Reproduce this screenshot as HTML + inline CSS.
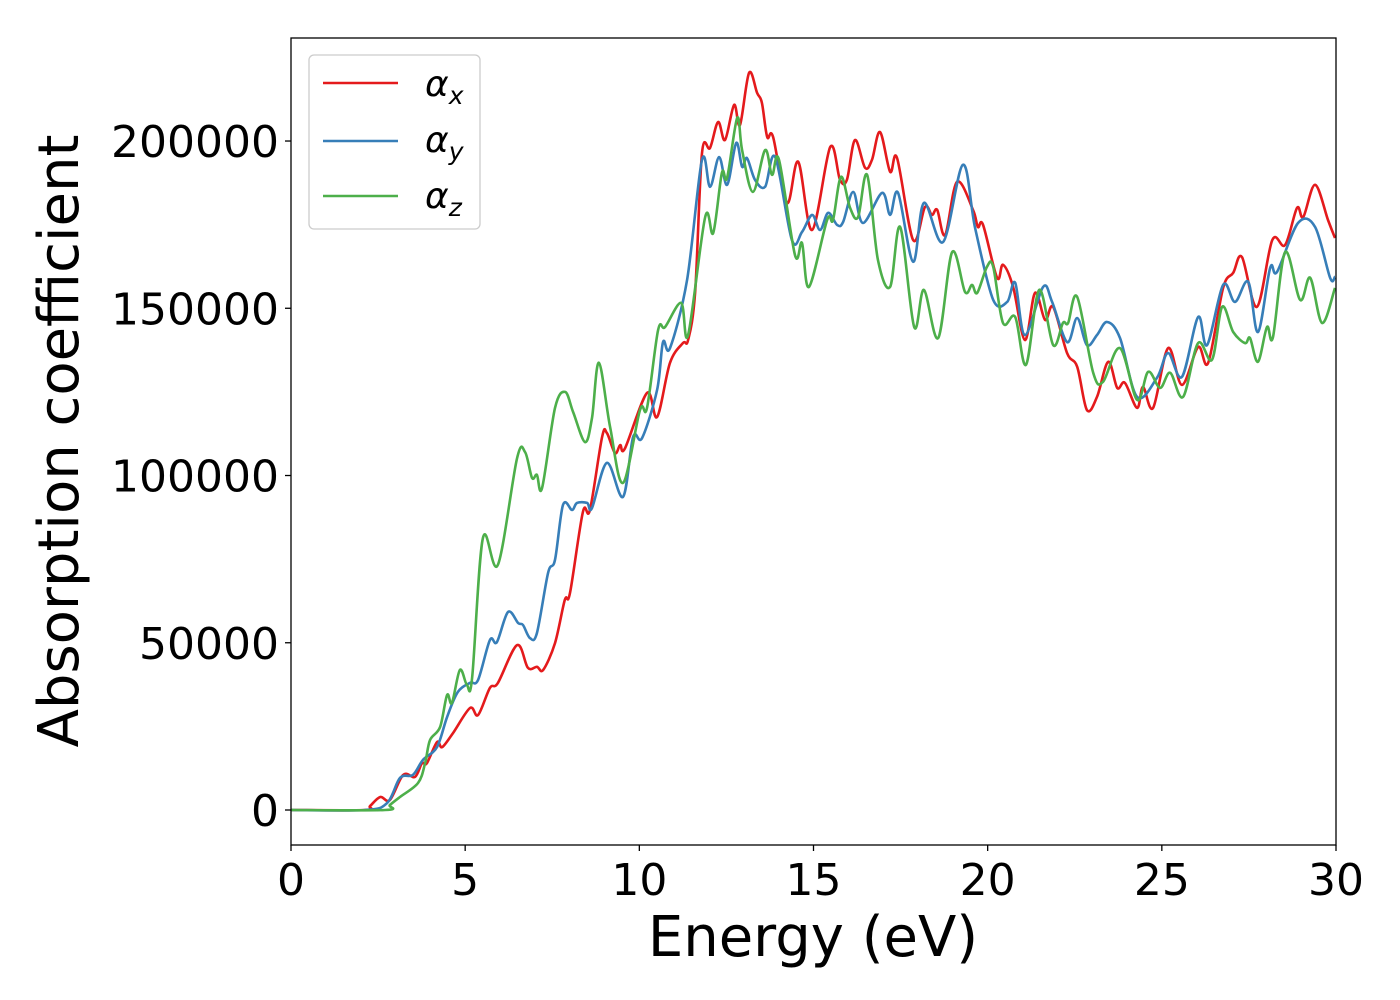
<!DOCTYPE html>
<html><head><meta charset="utf-8">
<style>
html,body{margin:0;padding:0;background:#fff;}
svg{display:block;font-family:"DejaVu Sans","Liberation Sans",sans-serif;}
</style></head>
<body>
<svg id="chart" width="1400" height="1000" viewBox="0 0 1400 1000" xmlns="http://www.w3.org/2000/svg">
<rect width="1400" height="1000" fill="#fff"/>
<g id="plot"></g>
<rect x="291" y="38" width="1045" height="807" fill="none" stroke="#000" stroke-width="1.3"/>
<g id="ticks"></g>
<text x="813" y="956" font-size="56" text-anchor="middle">Energy (eV)</text>
<text transform="translate(78,441) rotate(-90)" font-size="56" text-anchor="middle">Absorption coefficient</text>
<g>
<rect x="309" y="55" width="171" height="174" rx="5" fill="#fff" fill-opacity="0.8" stroke="#ccc" stroke-width="1.3"/>
<g><line x1="323" y1="83" x2="398" y2="83" stroke="#e41a1c" stroke-width="2.5"/><text x="425" y="96" font-size="36" font-style="italic">α<tspan font-size="25" dy="8">x</tspan></text></g>
<g><line x1="323" y1="141" x2="398" y2="141" stroke="#377eb8" stroke-width="2.5"/><text x="425" y="152" font-size="36" font-style="italic">α<tspan font-size="25" dy="8">y</tspan></text></g>
<g><line x1="323" y1="196" x2="398" y2="196" stroke="#4daf4a" stroke-width="2.5"/><text x="425" y="208" font-size="36" font-style="italic">α<tspan font-size="25" dy="8">z</tspan></text></g>
</g>
</svg>
<script>
const xTicks=[0,5,10,15,20,25,30];
const yTicks=[0,50000,100000,150000,200000];
const xE=[0,2.12,2.27,2.56,2.84,3.22,3.56,3.76,3.90,4.19,4.34,4.65,5.14,5.37,5.71,5.94,6.49,6.80,7.06,7.24,7.58,7.86,8.01,8.38,8.58,8.93,9.07,9.30,9.45,9.59,10.22,10.51,10.88,11.25,11.40,11.60,11.80,12.03,12.26,12.46,12.72,12.89,13.15,13.38,13.52,13.67,13.84,14.24,14.56,14.96,15.48,15.76,15.96,16.19,16.48,16.68,16.91,17.20,17.40,17.86,18.20,18.40,18.55,18.78,19.12,19.58,19.72,19.87,20.27,20.44,20.73,21.07,21.36,21.65,21.88,22.28,22.57,22.85,23.14,23.46,23.72,23.94,24.29,24.46,24.75,25.18,25.58,26.04,26.33,26.76,27.05,27.30,27.73,28.17,28.54,28.88,29.06,29.40,29.77,29.97];
const xV=[0,0,1200,3900,3000,10500,9900,14000,14000,20300,18800,23000,30500,28400,36500,38000,49300,42500,42800,41900,49900,62800,64900,89100,89700,111500,112700,106700,109100,108200,124700,117500,133700,139600,140500,154600,196400,197900,205700,200300,210800,204800,220400,214400,211400,201200,201200,181500,193800,173400,198200,188400,188400,200300,192000,194400,202700,190800,194900,170400,180300,177900,179400,171900,187800,179400,174300,174900,159100,163000,156400,140500,154600,146500,150400,136600,132500,119600,123500,134000,126200,127700,120200,126500,120200,138100,127100,138400,133700,156100,160600,165300,150400,170400,168900,180000,177300,186900,176400,171000];
const yE=[0,2.12,2.76,3.13,3.50,3.79,4.19,4.48,4.79,5.14,5.37,5.71,5.91,6.23,6.52,6.66,6.86,7.06,7.38,7.58,7.81,8.07,8.21,8.50,8.64,9.07,9.53,9.82,10.08,10.51,10.68,10.88,11.37,11.80,12.03,12.29,12.52,12.78,12.95,13.09,13.32,13.61,13.90,14.38,14.67,14.96,15.19,15.42,15.68,15.85,16.14,16.42,16.97,17.20,17.43,17.86,18.17,18.72,19.29,19.64,20.16,20.56,20.79,21.07,21.59,21.85,22.28,22.57,22.85,23.14,23.43,23.80,24.29,24.86,25.18,25.58,26.04,26.30,26.76,27.10,27.48,27.76,28.11,28.31,28.91,29.40,29.83,29.97];
const yV=[0,0,2100,9600,10500,15000,18800,27800,35300,38000,38900,50800,50200,59200,55900,55300,51400,52900,70900,74800,91200,89700,91800,91800,90300,103800,93600,111500,111200,125600,139900,138100,158500,194400,186300,195200,186900,199400,192300,194900,188400,186300,195200,170400,172800,177900,173400,178500,174900,175800,184800,175500,184500,177900,184500,163900,181500,169800,192900,174000,152500,151900,157600,142000,156400,151900,139900,147100,139000,142000,145900,141100,123500,129200,136600,129500,147400,139000,157000,151900,157900,142900,162100,160900,175500,174300,159100,159400];
const zE=[0,2.70,2.84,3.13,3.65,3.85,3.99,4.28,4.48,4.62,4.85,5.05,5.20,5.51,5.94,6.49,6.72,6.92,7.06,7.21,7.58,7.87,8.10,8.44,8.64,8.84,9.16,9.53,10.02,10.22,10.54,10.74,11.20,11.40,11.89,12.12,12.37,12.52,12.81,12.95,13.26,13.61,13.81,14.01,14.47,14.67,14.87,15.39,15.56,15.79,16.05,16.28,16.54,16.85,17.20,17.49,17.89,18.17,18.58,18.98,19.35,19.55,19.70,19.98,20.16,20.44,20.79,21.10,21.48,21.88,22.16,22.31,22.57,23.03,23.31,23.80,24.29,24.61,24.95,25.24,25.61,26.04,26.44,26.73,27.05,27.39,27.53,27.76,28.02,28.19,28.54,28.97,29.26,29.60,29.97];
const zV=[0,0,1500,3900,8100,14000,20900,24800,34400,32000,41900,37400,39500,81300,73300,105200,107000,99300,100200,96300,120200,125000,119000,110000,117200,133700,114500,97800,119600,120200,143500,144400,151600,142000,177300,172500,190500,189000,206900,197300,184800,197300,189900,194400,165900,169500,156400,176400,176400,189300,180000,177300,189900,164500,156400,174300,144400,155500,141100,166800,154900,157000,154600,162400,162400,145600,147400,133100,155500,139000,145600,145600,153400,130700,128000,138100,122600,131000,126200,130700,123500,139600,134600,150400,142900,139600,141100,134000,144400,141400,166800,152500,159100,145600,156100];

const X0=291,X1=1336,Y0=845,Y1=38,XMIN=0,XMAX=30,YMIN=-10463,YMAX=230800;
function sx(v){return X0+(v-XMIN)/(XMAX-XMIN)*(X1-X0);}
function sy(v){return Y0-(v-YMIN)/(YMAX-YMIN)*(Y0-Y1);}
const NS='http://www.w3.org/2000/svg';
function smoothPath(E,V){
  const p=E.map((e,i)=>[sx(e),sy(V[i])]);
  let d='M'+p[0][0].toFixed(1)+','+p[0][1].toFixed(1);
  for(let i=0;i<p.length-1;i++){
    const a=p[i-1]||p[i],b=p[i],c=p[i+1],e=p[i+2]||c;
    const c1=[b[0]+(c[0]-a[0])/6,b[1]+(c[1]-a[1])/6];
    const c2=[c[0]-(e[0]-b[0])/6,c[1]-(e[1]-b[1])/6];
    d+='C'+c1[0].toFixed(1)+','+c1[1].toFixed(1)+' '+c2[0].toFixed(1)+','+c2[1].toFixed(1)+' '+c[0].toFixed(1)+','+c[1].toFixed(1);
  }
  return d;
}
const plot=document.getElementById('plot');
const clip=document.createElementNS(NS,'clipPath');clip.setAttribute('id','clip');
const cr=document.createElementNS(NS,'rect');cr.setAttribute('x',X0);cr.setAttribute('y',Y1);cr.setAttribute('width',X1-X0);cr.setAttribute('height',Y0-Y1);
clip.appendChild(cr);plot.appendChild(clip);
function addLine(E,V,color,name){
  const path=document.createElementNS(NS,'path');
  path.setAttribute('d',smoothPath(E,V));
  path.setAttribute('fill','none');path.setAttribute('stroke',color);
  path.setAttribute('stroke-width','2.6');path.setAttribute('stroke-linejoin','round');
  path.setAttribute('clip-path','url(#clip)');
  
  
  plot.appendChild(path);
}
addLine(xE,xV,'#e41a1c','alpha-x-line');
addLine(yE,yV,'#377eb8','alpha-y-line');
addLine(zE,zV,'#4daf4a','alpha-z-line');
const tg=document.getElementById('ticks');
xTicks.forEach(t=>{
  const l=document.createElementNS(NS,'line');
  l.setAttribute('x1',sx(t));l.setAttribute('x2',sx(t));l.setAttribute('y1',Y0);l.setAttribute('y2',Y0+6);l.setAttribute('stroke','#000');l.setAttribute('stroke-width','1.3');
  
  
  tg.appendChild(l);
  const tx=document.createElementNS(NS,'text');
  tx.setAttribute('x',sx(t));tx.setAttribute('y',Y0+50);tx.setAttribute('font-size','44');tx.setAttribute('text-anchor','middle');
  tx.textContent=t;
  
  
  tg.appendChild(tx);
});
yTicks.forEach(t=>{
  const l=document.createElementNS(NS,'line');
  l.setAttribute('x1',X0-6);l.setAttribute('x2',X0);l.setAttribute('y1',sy(t));l.setAttribute('y2',sy(t));l.setAttribute('stroke','#000');l.setAttribute('stroke-width','1.3');
  
  
  tg.appendChild(l);
  const tx=document.createElementNS(NS,'text');
  tx.setAttribute('x',X0-12);tx.setAttribute('y',sy(t)+16);tx.setAttribute('font-size','44');tx.setAttribute('text-anchor','end');
  tx.textContent=t;
  
  
  tg.appendChild(tx);
});
</script>
</body></html>
